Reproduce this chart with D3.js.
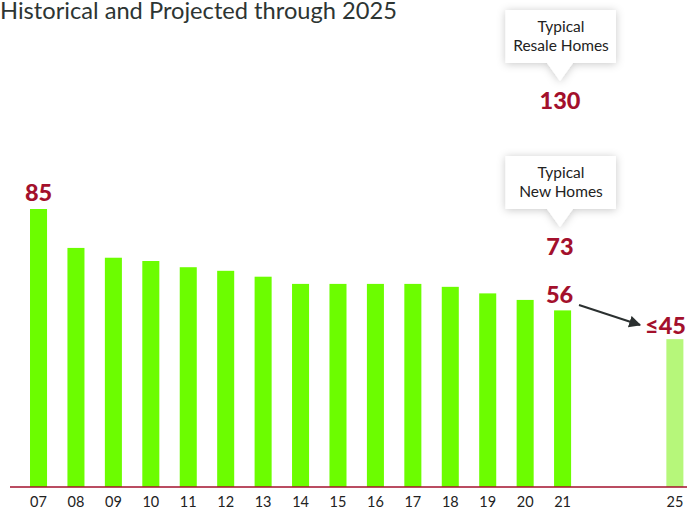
<!DOCTYPE html>
<html><head><meta charset="utf-8">
<script src="https://cdn.jsdelivr.net/npm/d3@7/dist/d3.min.js"></script>
<style>html,body{margin:0;padding:0;background:#fff;}svg{display:block;}</style>
</head><body>
<script>
const title = "Historical and Projected through 2025";
const slots = ["07","08","09","10","11","12","13","14","15","16","17","18","19","20","21","gap1","gap2","25"];
const years = ["07","08","09","10","11","12","13","14","15","16","17","18","19","20","21","25"];
const values = [85, 73.1, 70.1, 69.1, 67.2, 66.1, 64.3, 62.1, 62.1, 62.1, 62.1, 61.2, 59.2, 57.2, 54, 45.2];
const projected = ["25"];
const labelYears = ["07", "21", "25"];
const labelTexts = ["85", "56", "≤45"];
const calloutLines = [["Typical","Resale Homes"], ["Typical","New Homes"]];
const calloutValues = ["130", "73"];

const W = 687, H = 511;
const svg = d3.select("body").append("svg").attr("width", W).attr("height", H);
const defs = svg.append("defs");
const f = defs.append("filter").attr("id","sh").attr("x","-30%").attr("y","-30%").attr("width","160%").attr("height","160%");
f.append("feDropShadow").attr("dx",0).attr("dy",1).attr("stdDeviation",4).attr("flood-color","#000").attr("flood-opacity",0.22);
defs.append("marker").attr("id","arr").attr("viewBox","0 0 10 10").attr("refX",9).attr("refY",5)
  .attr("markerWidth",6).attr("markerHeight",6).attr("orient","auto").attr("markerUnits","strokeWidth")
  .append("path").attr("d","M0,0 L10,5 L0,10 z").attr("fill","#2b3030");

const xs = d3.scaleBand().domain(slots).range([19.9, 693.5]).paddingInner(0.545).paddingOuter(0.27);
const ys = d3.scaleLinear().domain([0, 85]).range([487, 209]);
const red = "#a3102c";

svg.append("text").attr("x", 0).attr("y", 18.5).text(title)
  .attr("font-family","Lato, sans-serif").attr("font-size", 23.5).attr("fill","#2d3533")
  .attr("textLength", 397).attr("lengthAdjust","spacingAndGlyphs");

const data = years.map((yr,i)=>({yr: yr, v: values[i]}));
svg.selectAll("rect.bar").data(data).enter().append("rect").attr("class","bar")
  .attr("x", d=>xs(d.yr)).attr("width", xs.bandwidth())
  .attr("y", d=>ys(d.v)).attr("height", d=>ys(0)-ys(d.v))
  .attr("fill", d=> projected.includes(d.yr) ? "#b6f77a" : "#6cfd00");

svg.append("line").attr("x1", 10).attr("x2", W).attr("y1", 487).attr("y2", 487)
  .attr("stroke", red).attr("stroke-width", 1.5);

const xAxis = d3.axisBottom(xs).tickValues(years).tickSize(0).tickPadding(0);
const ax = svg.append("g").attr("transform","translate(0,494)").call(xAxis);
ax.select(".domain").remove();
ax.selectAll("text").attr("font-family","Lato, sans-serif").attr("font-size",14.5).attr("fill","#222").attr("dy","0.9em");

// value labels
const lblData = labelYears.map((yr,i)=>{
  const v = values[years.indexOf(yr)];
  const cx = xs(yr) + xs.bandwidth()/2;
  let lx, ly, anchor = "middle";
  if (i === 0) { lx = cx; ly = ys(v) - 8.5; }
  else if (i === 1) { lx = cx - 3; ly = ys(v) - 7; }
  else { lx = 686; ly = ys(v) - 5.5; anchor = "end"; }
  return {text: labelTexts[i], lx: lx, ly: ly, anchor: anchor};
});
svg.selectAll("text.vlab").data(lblData).enter().append("text").attr("class","vlab")
  .attr("x", d=>d.lx).attr("y", d=>d.ly).attr("text-anchor", d=>d.anchor)
  .attr("font-family","Lato, sans-serif").attr("font-weight",900).attr("font-size",23.5).attr("fill",red)
  .text(d=>d.text);

// arrow
svg.append("line").attr("x1",579).attr("y1",305).attr("x2",640).attr("y2",325)
  .attr("stroke","#2b3030").attr("stroke-width",2).attr("marker-end","url(#arr)");

// callouts
const cTops = [10, 156];
calloutLines.forEach((lines,i)=>{
  const top = cTops[i], left = 505.5, w = 110.5, h = 53, cx = 560;
  const g = svg.append("g");
  g.append("path").attr("d",`M${left},${top} h${w} v${h} H${cx+13} L${cx},${top+h+18} L${cx-13},${top+h} H${left} z`)
    .attr("fill","#fff").attr("filter","url(#sh)");
  lines.forEach((ln,j)=>{
    g.append("text").attr("x", cx+1).attr("y", top+22+j*19).attr("text-anchor","middle")
      .attr("font-family","Lato, sans-serif").attr("font-size",15.5).attr("fill","#222").text(ln);
  });
  svg.append("text").attr("x", cx).attr("y", top+h+46).attr("text-anchor","middle")
    .attr("font-family","Lato, sans-serif").attr("font-weight",900).attr("font-size",23.5).attr("fill",red).text(calloutValues[i]);
});
</script>
</body></html>
